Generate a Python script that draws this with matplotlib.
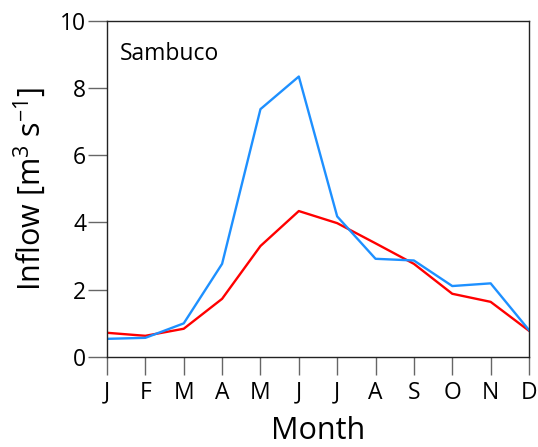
import matplotlib
matplotlib.use("Agg")
import matplotlib.pyplot as plt

plt.rcParams['font.family'] = ['Open Sans', 'DejaVu Sans']
plt.rcParams['mathtext.fontset'] = 'custom'
plt.rcParams['mathtext.rm'] = 'Open Sans'
plt.rcParams['mathtext.it'] = 'Open Sans'
plt.rcParams['axes.unicode_minus'] = False

months = ['J', 'F', 'M', 'A', 'M', 'J', 'J', 'A', 'S', 'O', 'N', 'D']
inflow_blue = [0.54, 0.57, 1.00, 2.77, 7.37, 8.34, 4.18, 2.92, 2.87, 2.11, 2.19, 0.80]
inflow_red = [0.72, 0.63, 0.84, 1.73, 3.30, 4.34, 3.98, 3.38, 2.77, 1.88, 1.64, 0.78]

fig = plt.figure(figsize=(5.38, 4.47), dpi=100)
ax = fig.add_axes([107 / 538, 1 - 357 / 447, (529 - 107) / 538, (357 - 20.7) / 447])

x = list(range(len(months)))
ax.plot(x, inflow_red, color='#ff0000', lw=1.7)
ax.plot(x, inflow_blue, color='#1e90ff', lw=1.7)

ax.set_xlim(0, 11)
ax.set_ylim(0, 10)
ax.set_xticks(x)
ax.set_xticklabels(months)
ax.set_yticks([0, 2, 4, 6, 8, 10])
ax.tick_params(axis='x', length=13, width=1, color='#666666', labelsize=16.5, pad=4)
ax.tick_params(axis='y', length=14, width=1, color='#666666', labelsize=16.5, pad=1)
for s in ax.spines.values():
    s.set_color('#222222')
    s.set_linewidth(1)

ax.set_xlabel('Month', fontsize=22, labelpad=8)
ax.set_ylabel(r'Inflow [m$^{\mathrm{3}}$ s$^{\mathrm{-1}}$]', fontsize=22, labelpad=9)
ax.text(0.03, 0.90, 'Sambuco', transform=ax.transAxes, fontsize=16.5, ha='left', va='center')

fig.savefig('out.png', dpi=100)
